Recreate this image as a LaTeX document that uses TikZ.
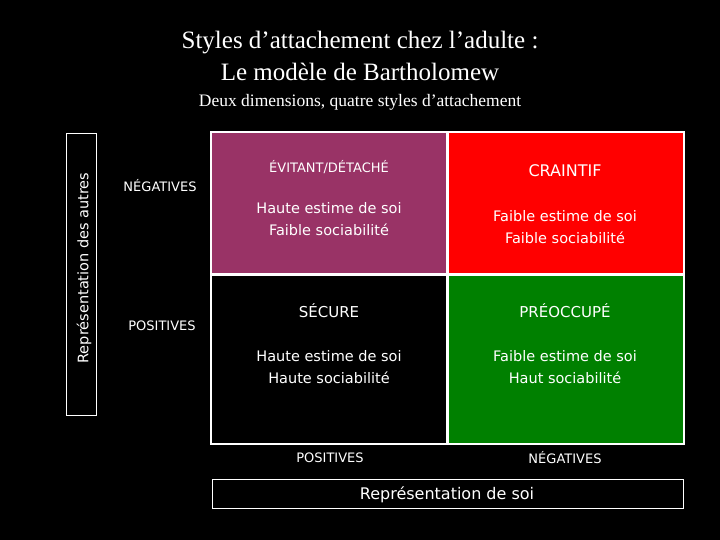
\documentclass[tikz,border=0pt]{standalone}
\usepackage{fontspec}
\setmainfont{Liberation Serif}
\newfontfamily\sansf{DejaVu Sans}
\definecolor{purp}{HTML}{993366}
\definecolor{grn}{HTML}{008000}
\begin{document}
\begin{tikzpicture}[x=1pt,y=-1pt,
  lab/.style={text=white,font=\sansf\fontsize{13}{15}\selectfont},
  txt/.style={text=white,font=\sansf\fontsize{14.5}{22}\selectfont,align=center},
  ttl/.style={text=white,font=\fontsize{25}{32}\selectfont,align=center}]
\fill[black] (0,0) rectangle (720,540);
\useasboundingbox (0,0) rectangle (720,540);
\node[ttl] (t) at (360,56) {Styles d’attachement chez l’adulte :\\Le modèle de Bartholomew};
\node[text=white,font=\fontsize{17.5}{20}\selectfont] (st) at (360,102) {Deux dimensions, quatre styles d’attachement};
\fill[white] (210,131) rectangle (685,445);
\fill[purp] (212,133) rectangle (446,273);
\fill[red] (449,133) rectangle (683,273);
\fill[black] (212,276) rectangle (446,443);
\fill[grn] (449,276) rectangle (683,443);
\draw[white] (66,133) rectangle (96,415);
\node[lab,font=\sansf\fontsize{14.5}{16}\selectfont,rotate=90] (ra) at (84,268) {Représentation des autres};
\draw[white] (212,479) rectangle (683,508);
\node[lab,font=\sansf\fontsize{16}{18}\selectfont] (rs) at (447,495) {Représentation de soi};
\node[lab] (n1) at (160,186) {NÉGATIVES};
\node[lab] (p1) at (162,326) {POSITIVES};
\node[lab] (p2) at (330,458) {POSITIVES};
\node[lab] (n2) at (565,458) {NÉGATIVES};
\node[lab] (a) at (329,167) {ÉVITANT/DÉTACHÉ};
\node[txt] (a2) at (329,219) {Haute estime de soi\\Faible sociabilité};
\node[lab,font=\sansf\fontsize{16}{18}\selectfont] (b) at (565,171) {CRAINTIF};
\node[txt] (b2) at (565,227) {Faible estime de soi\\Faible sociabilité};
\node[lab,font=\sansf\fontsize{15}{18}\selectfont] (c) at (329,311) {SÉCURE};
\node[txt] (c2) at (329,367) {Haute estime de soi\\Haute sociabilité};
\node[lab,font=\sansf\fontsize{15}{18}\selectfont] (d) at (565,311) {PRÉOCCUPÉ};
\node[txt] (d2) at (565,367) {Faible estime de soi\\Haut sociabilité};
\end{tikzpicture}
\end{document}
